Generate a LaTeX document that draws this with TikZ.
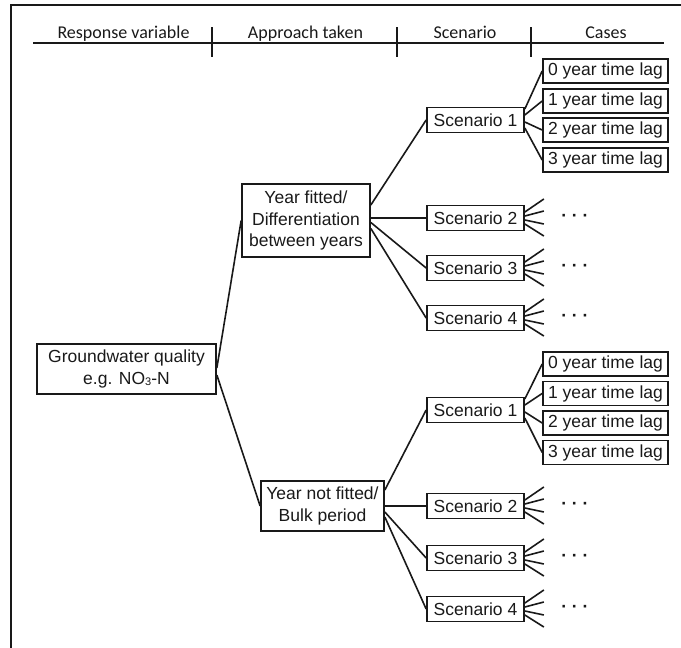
\documentclass[tikz,border=0pt]{standalone}
\usepackage{fontspec}
\setmainfont{Liberation Sans}
\newfontfamily\headfont{Carlito}
\newcommand\dgbody{\fontsize{17.5}{21.5}\selectfont}
\newcommand\dghead{\headfont\fontsize{18}{20}\selectfont}
\begin{document}
\begin{tikzpicture}[x=1pt,y=-1pt,
  ink/.style={draw=black!90, line width=1.7pt},
  conn/.style={draw=black!90, line width=1.6pt},
  box/.style={ink, rectangle, inner sep=0pt, align=center, text=black!90, font=\dgbody},
  top/.style={box, minimum width=179, minimum height=50},
  approach/.style={box, minimum width=128},
  scen/.style={box, minimum width=97, minimum height=25},
  lag/.style={box, minimum width=125, minimum height=24},
  headtxt/.style={anchor=base, text=black!90, font=\dghead},
  dots/.style={anchor=base, text=black!90, font=\dgbody\bfseries}]
\useasboundingbox (0,0) rectangle (681,648);

% frame edges
\draw[ink] (11,648) -- (11,5) -- (681,5);

% column headings
\draw[conn] (33,43) -- (664,43);
\foreach \xt in {212,397,531} \draw[conn] (\xt,27) -- (\xt,57);
\node[headtxt] (h1) at (123.5,38) {Response variable};
\node[headtxt] (h2) at (305.5,38) {Approach taken};
\node[headtxt] (h3) at (465,38) {Scenario};
\node[headtxt] (h4) at (606,38) {Cases};

% response variable
\node[top] (gw) at (126.5,369) {Groundwater quality\\e.g. NO\raisebox{-1pt}{\fontsize{11}{11}\selectfont 3}-N};

% approaches
\node[approach, minimum height=73] (yf) at (306,220.5) {Year fitted/\\Differentiation\\between years};
\node[approach, minimum width=123, minimum height=50] (ynf) at (322.5,506) {Year not fitted/\\Bulk period};

% scenarios
\node[scen] (s1a) at (475.5,120) {Scenario 1};
\node[scen] (s2a) at (475.5,218) {Scenario 2};
\node[scen] (s3a) at (475.5,268) {Scenario 3};
\node[scen] (s4a) at (475.5,318) {Scenario 4};
\node[scen] (s1b) at (475.5,410) {Scenario 1};
\node[scen] (s2b) at (475.5,506) {Scenario 2};
\node[scen] (s3b) at (475.5,558) {Scenario 3};
\node[scen] (s4b) at (475.5,609) {Scenario 4};

% cases
\node[lag] (a0) at (605.5,71)  {0 year time lag};
\node[lag] (a1) at (605.5,101) {1 year time lag};
\node[lag] (a2) at (605.5,130) {2 year time lag};
\node[lag] (a3) at (605.5,160) {3 year time lag};
\node[lag] (b0) at (605.5,364)   {0 year time lag};
\node[lag] (b1) at (605.5,393.5) {1 year time lag};
\node[lag] (b2) at (605.5,423)   {2 year time lag};
\node[lag] (b3) at (605.5,452.5) {3 year time lag};

% response -> approaches
\draw[conn] ([yshift=1pt]gw.east) -- (yf.west);
\draw[conn] ([yshift=-6pt]gw.east) -- (ynf.west);

% approaches -> scenarios
\draw[conn] ([yshift=15.5pt]yf.east) -- (s1a.west);
\draw[conn] (yf.east |- s2a.west) -- (s2a.west);
\draw[conn] ([yshift=-2pt]yf.east) -- (s3a.west);
\draw[conn] ([yshift=-8pt]yf.east) -- (s4a.west);
\draw[conn] ([yshift=16pt]ynf.east) -- (s1b.west);
\draw[conn] (ynf.east |- s2b.west) -- (s2b.west);
\draw[conn] ([yshift=-6pt]ynf.east) -- (s3b.west);
\draw[conn] ([yshift=-11pt]ynf.east) -- (s4b.west);

% scenario 1 -> time lags
\foreach \s/\p in {s1a/a, s1b/b} {
  \draw[conn] ([yshift=11pt]\s.east) -- (\p0.west);
  \draw[conn] ([yshift=5pt]\s.east) -- (\p1.west);
  \draw[conn] ([yshift=-2pt]\s.east) -- (\p2.west);
  \draw[conn] ([yshift=-8pt]\s.east) -- (\p3.west);
}

% remaining scenarios: open fans with ellipsis
\foreach \s in {s2a,s3a,s4a,s2b,s3b,s4b} {
  \draw[conn] ([yshift=6pt]\s.east) -- ++(19,-13);
  \draw[conn] ([yshift=2pt]\s.east) -- ++(19,-5);
  \draw[conn] ([yshift=-2pt]\s.east) -- ++(19,4);
  \draw[conn] ([yshift=-6pt]\s.east) -- ++(19,12);
  \node[dots] at ([xshift=50pt,yshift=-3.5pt]\s.east) {· · ·};
}
\end{tikzpicture}
\end{document}
